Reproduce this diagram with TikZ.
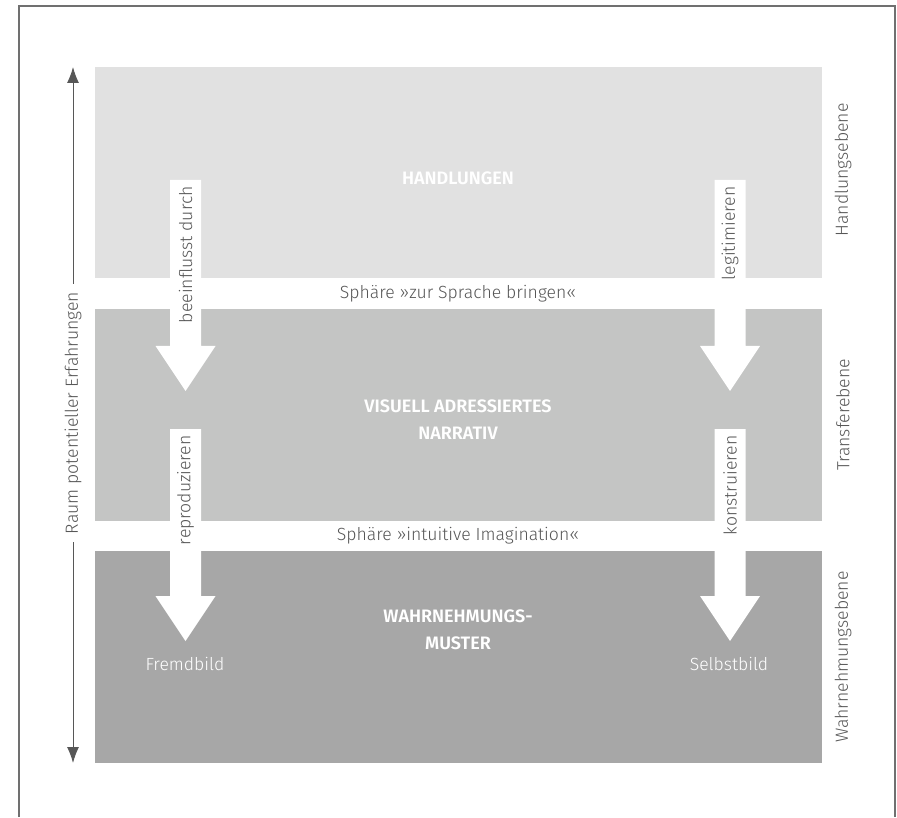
\documentclass[tikz,border=0pt]{standalone}
\usepackage{fontspec}
\setmainfont{Fira Sans}[UprightFont=* Light, BoldFont=* SemiBold]
\usepackage{tikz}
\usetikzlibrary{arrows.meta, positioning}

\definecolor{bandA}{HTML}{E1E1E1}
\definecolor{bandB}{HTML}{C4C5C4}
\definecolor{bandC}{HTML}{A7A7A7}
\definecolor{inkgray}{HTML}{575757}
\definecolor{framegray}{HTML}{707070}

\begin{document}
\begin{tikzpicture}[
    x=0.5pt, y=-0.5pt,
    band/.style={fill=#1, draw=none},
    title/.style={
        text=white, font=\fontsize{9}{13.5}\selectfont\bfseries,
        align=center, inner sep=0pt
    },
    lbl/.style={text=inkgray, font=\fontsize{8.8}{10}\selectfont, inner sep=2pt},
    sidelbl/.style={lbl, rotate=90},
    shaftlbl/.style={lbl, rotate=90, anchor=east, inner sep=1pt},
    endlbl/.style={text=white, font=\fontsize{8.8}{10}\selectfont, inner sep=0pt},
    axis/.style={draw=inkgray, line width=0.5pt,
        {Latex[length=8pt, width=6pt]}-{Latex[length=8pt, width=6pt]}},
    frame/.style={draw=framegray, line width=0.75pt}
]
    \useasboundingbox (0,0) rectangle (897,817);

    % outer frame, open at the bottom
    \draw[frame] (19,817) -- (19,6) -- (895,6) -- (895,817);

    % the three levels
    \fill[band=bandA] (95,67)  rectangle (822,278);
    \fill[band=bandB] (95,309) rectangle (822,521);
    \fill[band=bandC] (95,551) rectangle (822,763);

    \node[title] (handl) at (458,178) {HANDLUNGEN};
    \node[title] (narr)  at (458,420) {VISUELL ADRESSIERTES\\NARRATIV};
    \node[title] (wahr)  at (458,630) {WAHRNEHMUNGS-\\MUSTER};

    % spheres between the levels
    \node[lbl] (sph1) at (458,294) {Sphäre »zur Sprache bringen«};
    \node[lbl] (sph2) at (458,536) {Sphäre »intuitive Imagination«};

    % level names on the right
    \node[sidelbl] (ebA) at (843,170) {Handlungsebene};
    \node[sidelbl] (ebB) at (843,415) {Transferebene};
    \node[sidelbl] (ebC) at (843,657) {Wahrnehmungsebene};

    % white block arrows: centre x / shaft top / tip
    \foreach \ax/\at/\ab in {185.5/180/391, 185.5/429/641, 730/180/391, 730/429/641}{
        \fill[white] (\ax-15.5,\at) -- (\ax+15.5,\at) -- (\ax+15.5,\ab-45)
            -- (\ax+30,\ab-45) -- (\ax,\ab) -- (\ax-30,\ab-45)
            -- (\ax-15.5,\ab-45) -- cycle;
    }
    \node[shaftlbl] (beein) at (185.5,184) {beeinflusst durch};
    \node[shaftlbl] (repro) at (185.5,433) {reproduzieren};
    \node[shaftlbl] (legit) at (730,184)   {legitimieren};
    \node[shaftlbl] (konst) at (730,433)   {konstruieren};

    \node[endlbl] (fremd) at (185,664) {Fremdbild};
    \node[endlbl] (selbst) at (729,664) {Selbstbild};

    % space of experience, both directions
    \coordinate (axtop) at (73,67);
    \coordinate (axbot) at (73,763);
    \draw[axis] (axbot) -- (axtop);
    \node[sidelbl, fill=white, inner sep=4pt] (raum) at (73,413)
        {Raum potentieller Erfahrungen};
\end{tikzpicture}
\end{document}
